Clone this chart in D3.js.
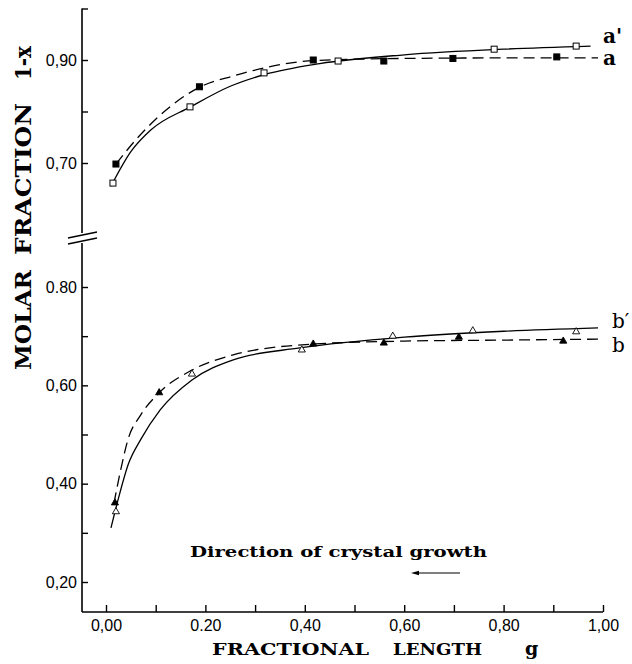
<!DOCTYPE html>
<html>
<head>
<meta charset="utf-8">
<script src="https://cdn.jsdelivr.net/npm/d3@7"></script>
<style>
  body { margin: 0; background: #fff; }
  svg { display: block; }
</style>
</head>
<body>
<script>
// ---- data ----
var xTicks = [0, 0.1, 0.2, 0.3, 0.4, 0.5, 0.6, 0.7, 0.8, 0.9, 1.0];
var xTickLabels = ["0,00", "0.20", "0,40", "0,60", "0,80", "1,00"];
var topTicks = [0.7, 0.8, 0.9, 1.0];
var topTickLabels = ["0,70", "", "0,90", ""];
var lowTicks = [0.2, 0.3, 0.4, 0.5, 0.6, 0.7, 0.8];
var lowTickLabels = ["0,20", "", "0,40", "", "0,60", "", "0.80"];

// a' open squares (solid), a filled squares (dashed)
var aPrimeG = [0.014, 0.169, 0.318, 0.467, 0.781, 0.946];
var aPrimeV = [0.661, 0.809, 0.875, 0.898, 0.921, 0.927];
var aG = [0.020, 0.188, 0.417, 0.559, 0.698, 0.907];
var aV = [0.698, 0.848, 0.900, 0.898, 0.903, 0.906];
// b' open triangles (solid), b filled triangles (dashed)
var bPrimeG = [0.020, 0.173, 0.394, 0.577, 0.738, 0.946];
var bPrimeV = [0.343, 0.623, 0.672, 0.700, 0.711, 0.709];
var bG = [0.018, 0.107, 0.417, 0.559, 0.710, 0.920];
var bV = [0.361, 0.585, 0.684, 0.686, 0.698, 0.690];

// hand-drawn fit curves, traced
var aPrimeFitG = [0.01, 0.05, 0.09, 0.17, 0.25, 0.32, 0.43, 0.6, 0.8, 0.975];
var aPrimeFitV = [0.655, 0.722, 0.764, 0.809, 0.849, 0.872, 0.893, 0.910, 0.921, 0.927];
var aFitG = [0.02, 0.06, 0.1, 0.19, 0.26, 0.32, 0.42, 0.6, 0.8, 0.99];
var aFitV = [0.698, 0.745, 0.785, 0.848, 0.870, 0.885, 0.899, 0.903, 0.904, 0.904];
var bPrimeFitG = [0.01, 0.025, 0.045, 0.07, 0.109, 0.173, 0.256, 0.39, 0.6, 0.8, 0.99];
var bPrimeFitV = [0.31, 0.37, 0.44, 0.49, 0.55, 0.611, 0.652, 0.676, 0.698, 0.710, 0.717];
var bFitG = [0.016, 0.03, 0.044, 0.07, 0.107, 0.173, 0.256, 0.417, 0.6, 0.8, 0.99];
var bFitV = [0.36, 0.43, 0.489, 0.54, 0.585, 0.631, 0.662, 0.684, 0.690, 0.692, 0.694];

draw();
function draw(){
	var serif = "'DejaVu Serif', serif", sans = "'Liberation Sans', Arial, sans-serif";

	var svg = d3.select("body").append("svg")
		.attr("width", 632).attr("height", 664);

	// scales
	var x = d3.scaleLinear().domain([0, 1]).range([106, 603]);
	var yTop = d3.scaleLinear().domain([0.7, 0.9]).range([163, 60]);
	var yLow = d3.scaleLinear().domain([0.2, 0.8]).range([582, 287]);
	var axisX = 82, baseY = 612, breakTop = 233, breakLow = 243;

	// axis lines
	svg.append("line").attr("x1", axisX).attr("x2", axisX)
		.attr("y1", yTop(1.0)).attr("y2", breakTop).style("stroke", "black").style("stroke-width", 1.6);
	svg.append("line").attr("x1", axisX).attr("x2", axisX)
		.attr("y1", breakLow).attr("y2", baseY).style("stroke", "black").style("stroke-width", 1.6);
	svg.append("line").attr("x1", axisX).attr("x2", x(1))
		.attr("y1", baseY).attr("y2", baseY).style("stroke", "black").style("stroke-width", 1.6);

	// break marks
	svg.append("line").attr("x1", 68).attr("y1", 238).attr("x2", 97).attr("y2", 232)
		.style("stroke", "black").style("stroke-width", 1.4);
	svg.append("line").attr("x1", 68).attr("y1", 244).attr("x2", 97).attr("y2", 238)
		.style("stroke", "black").style("stroke-width", 1.4);

	// x axis
	var xAxis = d3.axisBottom(x).tickValues(xTicks).tickSize(-7).tickPadding(8)
		.tickFormat(function(d, i){ return i % 2 == 0 ? xTickLabels[i / 2] : ""; });
	var gx = svg.append("g").attr("transform", "translate(0," + baseY + ")").call(xAxis);
	gx.select(".domain").remove();
	gx.selectAll("line").style("stroke-width", 1.4);
	gx.selectAll("text").attr("font-family", sans).attr("font-size", 16).attr("fill", "black");

	// y axes
	var topAxis = d3.axisLeft(yTop).tickValues(topTicks).tickSize(-6).tickPadding(5)
		.tickFormat(function(d, i){ return topTickLabels[i]; });
	var gt = svg.append("g").attr("transform", "translate(" + axisX + ",0)").call(topAxis);
	gt.select(".domain").remove();
	var lowAxis = d3.axisLeft(yLow).tickValues(lowTicks).tickSize(-6).tickPadding(5)
		.tickFormat(function(d, i){ return lowTickLabels[i]; });
	var gl = svg.append("g").attr("transform", "translate(" + axisX + ",0)").call(lowAxis);
	gl.select(".domain").remove();
	svg.selectAll(".tick line").style("stroke-width", 1.4);
	gt.selectAll("text").attr("font-family", sans).attr("font-size", 16).attr("fill", "black");
	gl.selectAll("text").attr("font-family", sans).attr("font-size", 16).attr("fill", "black");

	// curves
	function fit(gs, vs, yScale, dashed){
		var pts = gs.map(function(g, i){ return [x(g), yScale(vs[i])]; });
		svg.append("path").attr("d", d3.line().curve(d3.curveMonotoneX)(pts))
			.attr("fill", "none").attr("stroke", "black").attr("stroke-width", 1.3)
			.attr("stroke-dasharray", dashed ? "11,6" : null);
	}
	fit(aPrimeFitG, aPrimeFitV, yTop, false);
	fit(aFitG, aFitV, yTop, true);
	fit(bPrimeFitG, bPrimeFitV, yLow, false);
	fit(bFitG, bFitV, yLow, true);

	// markers
	function squares(gs, vs, filled){
		svg.append("g").selectAll("rect").data(gs).enter().append("rect")
			.attr("x", function(d){ return x(d) - 3; })
			.attr("y", function(d, i){ return yTop(vs[i]) - 3; })
			.attr("width", 6).attr("height", 6)
			.attr("fill", filled ? "black" : "white").attr("stroke", "black").attr("stroke-width", 1);
	}
	function triangles(gs, vs, filled){
		var sym = d3.symbol().type(d3.symbolTriangle).size(22);
		svg.append("g").selectAll("path").data(gs).enter().append("path")
			.attr("d", sym)
			.attr("transform", function(d, i){ return "translate(" + x(d) + "," + yLow(vs[i]) + ")"; })
			.attr("fill", filled ? "black" : "white").attr("stroke", "black").attr("stroke-width", 0.9);
	}
	squares(aPrimeG, aPrimeV, false);
	squares(aG, aV, true);
	triangles(bPrimeG, bPrimeV, false);
	triangles(bG, bV, true);

	// curve labels
	drawText("a'", 603, 43, 20, "bold");
	drawText("a", 603, 65, 20, "bold");
	drawText("b\u2032", 612, 328, 20, "normal");
	drawText("b", 612, 352, 20, "normal");

	// annotation
	svg.append("text").attr("x", 190).attr("y", 557).text("Direction of crystal growth")
		.attr("font-family", serif).attr("font-size", 14).attr("font-weight", "bold")
		.attr("textLength", 297).attr("lengthAdjust", "spacingAndGlyphs");
	svg.append("line").attr("x1", 416).attr("x2", 460).attr("y1", 573).attr("y2", 573)
		.style("stroke", "black").style("stroke-width", 1.2);
	svg.append("path").attr("d", "M411,573 L419,570.8 L419,575.2 Z").attr("fill", "black");

	// axis titles
	drawText("FRACTIONAL", 212, 655, 17, "bold", 157);
	drawText("LENGTH", 393, 655, 17, "bold", 89);
	drawText("g", 525, 655, 19, "bold");

	yTitle("MOLAR", 370, 100);
	yTitle("FRACTION", 255, 152);
	yTitle("1-x", 80, 34);

	function yTitle(t, yStart, len){
		svg.append("text").attr("transform", "translate(31," + yStart + ") rotate(-90)")
			.text(t).attr("font-family", serif).attr("font-size", 22).attr("font-weight", "bold")
			.attr("textLength", len).attr("lengthAdjust", "spacingAndGlyphs");
	}
	function drawText(text, px, py, size, weight, len){
		var t = svg.append("text").attr("x", px).attr("y", py).text(text)
			.attr("font-family", serif).attr("font-size", size).attr("font-weight", weight);
		if (len) t.attr("textLength", len).attr("lengthAdjust", "spacingAndGlyphs");
	}
}
</script>
</body>
</html>
